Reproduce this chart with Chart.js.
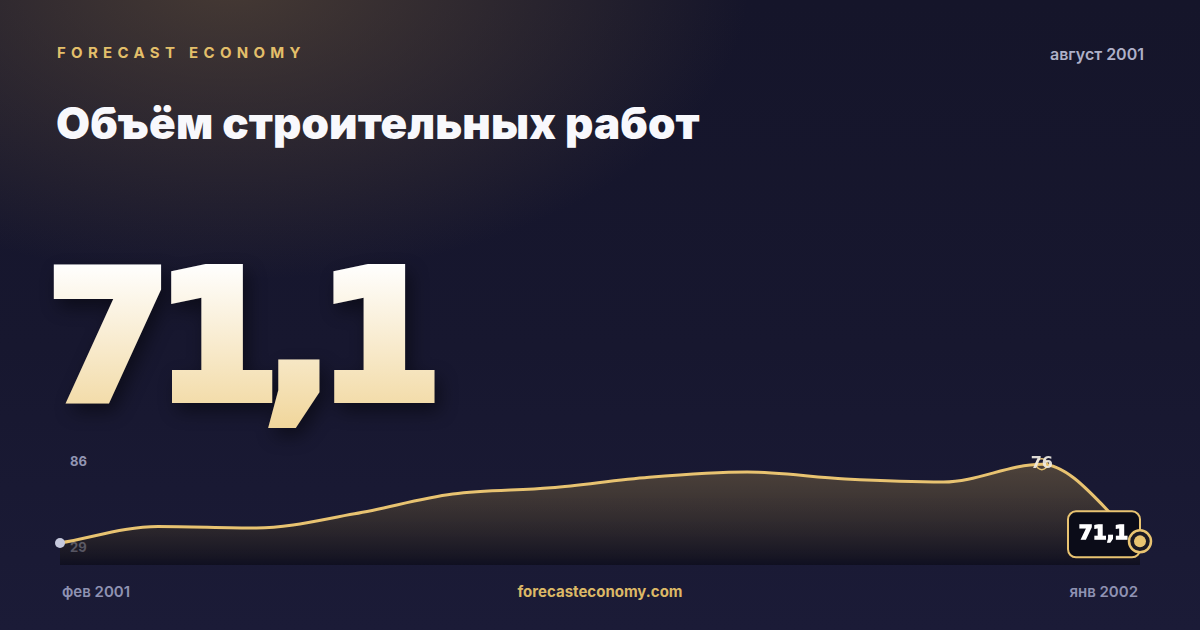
<!DOCTYPE html>
<html lang="ru">
<head>
<meta charset="utf-8">
<script src="https://cdn.jsdelivr.net/npm/chart.js@4.4.1/dist/chart.umd.min.js"></script>
<style>
    body { margin: 0; width: 1200px; height: 630px; overflow: hidden; background: #17172f; font-family: Inter, "Noto Sans", sans-serif; }
    .card {
        position: relative; width: 1200px; height: 630px; overflow: hidden;
        background:
            radial-gradient(ellipse 520px 300px at 230px -20px, rgba(110, 88, 60, 0.55), rgba(110, 88, 60, 0) 100%),
            linear-gradient(180deg, #15152a 0%, #17172f 55%, #1b1b37 100%);
    }
    .t { position: absolute; white-space: nowrap; line-height: 20px; }
    .brand { left: 57px; top: 43px; font-size: 15px; font-weight: 700; letter-spacing: 5.3px; color: #e3bf6a; }
    .date { right: 56px; top: 44px; font-size: 16px; font-weight: 600; color: #aeb0c8; }
    .title { left: 56px; top: 99px; font-weight: 900; font-size: 44px; line-height: 48px; color: #f8f8fc; letter-spacing: 0.1px; }
    .axis { font-size: 15px; font-weight: 600; color: #8f92b2; top: 582px; }
    .rng { font-size: 13px; font-weight: 700; color: #9396b3; left: 70px; }
    .site { left: 0; width: 1200px; text-align: center; font-size: 15px; font-weight: 700; color: #dcb866; top: 582px; }
    canvas, svg { position: absolute; left: 0; top: 0; }
    #big { font-family: "DejaVu Sans", sans-serif; font-weight: 700; font-size: 177px; letter-spacing: -14px; filter: drop-shadow(5px 8px 9px rgba(0, 0, 0, 0.45)); }
</style>
</head>
<body>
<div class="card">
    <div class="t brand">FORECAST ECONOMY</div>
    <div class="t date">август 2001</div>
    <div class="t title">Объём строительных работ</div>
    <svg width="1200" height="630">
        <defs>
            <linearGradient id="bigGrad" gradientUnits="userSpaceOnUse" x1="0" y1="262" x2="0" y2="437">
                <stop offset="0" stop-color="#ffffff"/>
                <stop offset="1" stop-color="#f0d496"/>
            </linearGradient>
        </defs>
        <text id="big" x="47" y="398" fill="url(#bigGrad)" stroke="url(#bigGrad)" stroke-width="10" stroke-linejoin="miter"></text>
    </svg>
    <div class="t rng" id="rngTop" style="top:451px"></div>
    <div class="t rng" id="rngBottom" style="top:537px"></div>
    <div class="t axis" id="firstLabel" style="left:62px"></div>
    <div class="t site">forecasteconomy.com</div>
    <div class="t axis" id="lastLabel" style="right:62px"></div>
    <canvas id="chart" width="1200" height="630"></canvas>
</div>
<script>
    const months = ["фев 2001", "мар 2001", "апр 2001", "май 2001", "июн 2001", "июл 2001",
        "авг 2001", "сен 2001", "окт 2001", "ноя 2001", "дек 2001", "янв 2002"];
    const values = [71.0, 72.05, 71.95, 72.85, 74.1, 74.5, 75.17, 75.5, 75.06, 74.87, 76.0, 71.1];
    const rangeLabels = ["86", "29"];

    const fmt = v => String(v).replace(".", ",");
    const lastValue = values[values.length - 1];

    document.getElementById("big").textContent = fmt(lastValue);
    document.getElementById("rngTop").textContent = rangeLabels[0];
    document.getElementById("rngBottom").textContent = rangeLabels[1];
    document.getElementById("firstLabel").textContent = months[0];
    document.getElementById("lastLabel").textContent = months[months.length - 1];

    const gold = "#e8c371";

    const markers = {
        id: "markers",
        afterDatasetsDraw(chart) {
            const { ctx, scales: { x, y } } = chart;
            const last = values.length - 1;
            let peak = 0;
            values.forEach((v, i) => { if (v > values[peak]) peak = i; });

            ctx.save();
            // start point
            ctx.fillStyle = "#c6c9dd";
            ctx.beginPath();
            ctx.arc(x.getPixelForValue(0), y.getPixelForValue(values[0]), 5, 0, Math.PI * 2);
            ctx.fill();

            // peak ring + label
            const px = x.getPixelForValue(peak), py = y.getPixelForValue(values[peak]);
            ctx.strokeStyle = gold;
            ctx.lineWidth = 1.5;
            ctx.beginPath();
            ctx.arc(px, py, 5.5, 0, Math.PI * 2);
            ctx.stroke();
            ctx.fillStyle = "rgba(240, 236, 226, 0.92)";
            ctx.font = "bold 16px 'DejaVu Sans'";
            ctx.textAlign = "center";
            ctx.textBaseline = "alphabetic";
            ctx.fillText(fmt(Math.round(values[peak])), px, py + 4);

            // last value box
            const lx = x.getPixelForValue(last), ly = y.getPixelForValue(lastValue);
            const bw = 72, bh = 46, bx = lx - bw, by = ly - 30;
            ctx.fillStyle = "#0b0c18";
            ctx.strokeStyle = gold;
            ctx.lineWidth = 2;
            ctx.beginPath();
            ctx.roundRect(bx, by, bw, bh, 8);
            ctx.fill();
            ctx.stroke();
            ctx.fillStyle = "#ffffff";
            ctx.strokeStyle = "#ffffff";
            ctx.lineWidth = 1.4;
            ctx.font = "bold 20px 'DejaVu Sans'";
            ctx.textBaseline = "middle";
            ctx.fillText(fmt(lastValue), bx + bw / 2 - 0.5, by + bh / 2 - 1);
            ctx.strokeText(fmt(lastValue), bx + bw / 2 - 0.5, by + bh / 2 - 1);

            // last point ring
            ctx.fillStyle = "#1a1824";
            ctx.strokeStyle = gold;
            ctx.lineWidth = 2.5;
            ctx.beginPath();
            ctx.arc(lx, ly, 11, 0, Math.PI * 2);
            ctx.fill();
            ctx.stroke();
            ctx.fillStyle = gold;
            ctx.beginPath();
            ctx.arc(lx, ly, 6, 0, Math.PI * 2);
            ctx.fill();
            ctx.restore();
        }
    };

    new Chart(document.getElementById("chart"), {
        type: "line",
        data: {
            labels: months,
            datasets: [
                {
                    data: values,
                    borderColor: gold,
                    borderWidth: 3,
                    pointRadius: 0,
                    cubicInterpolationMode: "monotone",
                    fill: "start",
                    clip: false,
                    backgroundColor: (context) => {
                        const area = context.chart.chartArea;
                        if (!area) {
                            return "rgba(0,0,0,0)";
                        }
                        const g = context.chart.ctx.createLinearGradient(0, area.top + 10, 0, area.bottom);
                        g.addColorStop(0, "rgba(167, 138, 75, 0.38)");
                        g.addColorStop(1, "rgba(8, 8, 16, 0.55)");
                        return g;
                    }
                }
            ]
        },
        options: {
            responsive: false,
            animation: false,
            layout: { padding: { left: 60, right: 60, top: 450, bottom: 65 } },
            scales: {
                x: { display: false },
                y: { display: false, min: 69.6, max: 76.9 }
            },
            plugins: {
                legend: { display: false },
                tooltip: { enabled: false }
            }
        },
        plugins: [markers]
    });
</script>
</body>
</html>
